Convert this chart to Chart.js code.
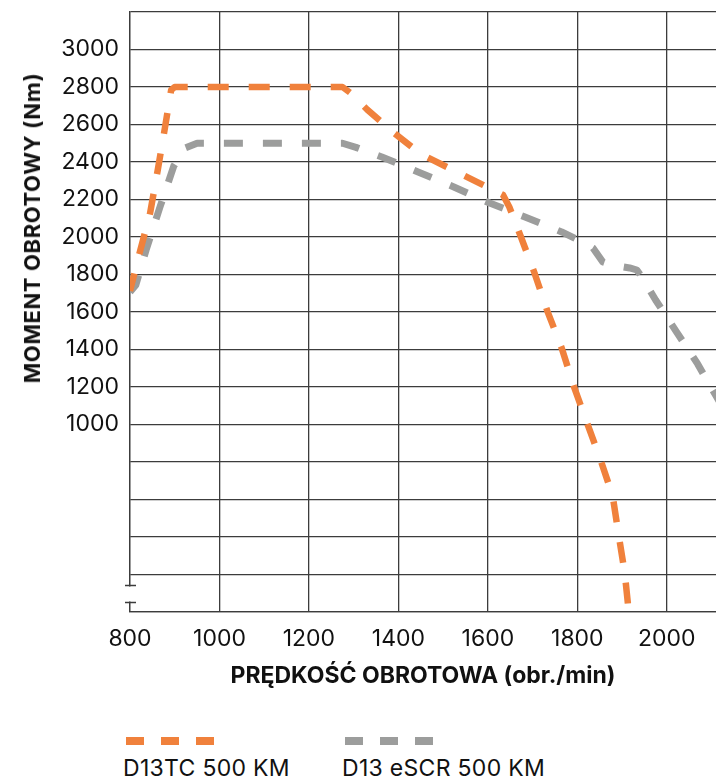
<!DOCTYPE html>
<html>
<head>
<meta charset="utf-8">
<script src="https://cdn.jsdelivr.net/npm/chart.js@4/dist/chart.umd.min.js"></script>
<style>
  html, body { margin: 0; padding: 0; background: #fff; }
  #wrap { position: relative; width: 716px; height: 776px; overflow: hidden; font-family: Inter, "Noto Sans", sans-serif; color: #111; }
  #c { position: absolute; left: 0; top: 0; }
  #ytitle { position: absolute; left: 32px; top: 228px; transform: translate(-50%, -50%) rotate(-90deg); white-space: nowrap; font-weight: 700; font-size: 22px; letter-spacing: 0.6px; }
  .leg { position: absolute; top: 737px; }
  .leg .dash { display: flex; gap: 17px; height: 8px; }
  .leg .dash span { display: block; width: 18px; height: 8px; }
  .leg .lbl { margin-top: 9px; font-size: 23px; white-space: nowrap; margin-left: -3px; letter-spacing: 0.3px; }
</style>
</head>
<body>
<div id="wrap">
  <canvas id="c" width="716" height="700"></canvas>
  <div id="ytitle">MOMENT OBROTOWY (Nm)</div>
  <div class="leg" style="left:126px"><div class="dash" id="d1"></div><div class="lbl" id="l1"></div></div>
  <div class="leg" style="left:345px"><div class="dash" id="d2"></div><div class="lbl" id="l2"></div></div>
</div>
<script>
// ---- data ----
const seriesNames = ["D13TC 500 KM", "D13 eSCR 500 KM"];
const rpmTC = [800, 822, 845, 862, 878, 892, 900, 1275, 1292, 1330, 1390, 1450, 1517, 1590, 1634, 1648, 1674, 1705, 1733, 1765, 1792, 1821, 1852, 1879, 1892, 1906, 1915];
const torqueTC = [1712, 1920, 2128, 2357, 2581, 2784, 2800, 2800, 2770, 2680, 2555, 2443, 2363, 2277, 2224, 2160, 2000, 1803, 1605, 1408, 1205, 1013, 811, 619, 416, 208, 0];
const rpmSCR = [800, 813, 836, 867, 898, 923, 950, 1275, 1305, 1363, 1444, 1524, 1604, 1683, 1765, 1821, 1835, 1857, 1877, 1917, 1933, 1944, 1975, 2022, 2069, 2109, 2130];
const torqueSCR = [1707, 1744, 1931, 2160, 2379, 2475, 2500, 2500, 2478, 2427, 2347, 2267, 2181, 2107, 2027, 1962, 1941, 1867, 1851, 1835, 1824, 1787, 1664, 1493, 1323, 1157, 1070];
const xTicksMin = 800, xMax = 2110, xStep = 200;
const yMin = 0, yMax = 3200, yStep = 200, yLabelMin = 1000, yLabelMax = 3000;
const xTitle = "PRĘDKOŚĆ OBROTOWA (obr./min)";
const colors = ["#f0813c", "#9c9d9c"];

const toPts = (xs, ys) => xs.map((x, i) => ({ x: x, y: ys[i] }));

// legend (HTML)
[["d1", "l1", 0], ["d2", "l2", 1]].forEach(([d, l, i]) => {
  const el = document.getElementById(d);
  for (let k = 0; k < 3; k++) { const s = document.createElement('span'); s.style.background = colors[i]; el.appendChild(s); }
  document.getElementById(l).textContent = seriesNames[i];
});

const gridColor = '#3c3c3c';

const breakPlugin = {
  id: 'axisBreak',
  afterDraw(chart) {
    const { ctx, chartArea } = chart;
    const ys = chart.scales.y;
    const yA = Math.round(ys.getPixelForValue(144)) + 0.5;
    const yB = Math.round(ys.getPixelForValue(53)) + 0.5;
    const x = chartArea.left;
    ctx.save();
    ctx.fillStyle = '#fff';
    ctx.fillRect(x - 3, yA + 1, 6, yB - yA - 2);
    ctx.strokeStyle = gridColor;
    ctx.lineWidth = 1.3;
    ctx.beginPath();
    ctx.moveTo(x - 5, yA); ctx.lineTo(x + 6, yA);
    ctx.moveTo(x - 5, yB); ctx.lineTo(x + 6, yB);
    ctx.stroke();
    ctx.restore();
  }
};

new Chart(document.getElementById('c'), {
  type: 'line',
  data: {
    datasets: [
      { label: seriesNames[0], data: toPts(rpmTC, torqueTC), borderColor: colors[0], borderWidth: 6.5, borderDash: [21, 20], borderDashOffset: 3, pointRadius: 0, tension: 0, fill: false, borderJoinStyle: 'round', order: 1 },
      { label: seriesNames[1], data: toPts(rpmSCR, torqueSCR), borderColor: colors[1], borderWidth: 7, borderDash: [19, 20], borderDashOffset: 0, pointRadius: 0, tension: 0, fill: false, borderJoinStyle: 'round', order: 2 }
    ]
  },
  options: {
    responsive: false,
    animation: false,
    layout: { padding: { top: 12, left: 0, right: 0, bottom: 0 } },
    plugins: { legend: { display: false }, tooltip: { enabled: false } },
    scales: {
      x: {
        type: 'linear', min: xTicksMin, max: xMax,
        ticks: { stepSize: xStep, includeBounds: false, padding: 13, color: '#111', font: { family: 'Inter', size: 23 }, maxRotation: 0,
          callback: v => String(v) },
        grid: { color: gridColor, lineWidth: 1.3, drawTicks: false },
        border: { display: true, color: gridColor, width: 1.3 },
        title: { display: true, text: xTitle, color: '#111', font: { family: 'Inter', size: 23, weight: 'bold' }, padding: { top: 0, bottom: 10 } },
        afterFit(s) { s.height = 88; s.paddingLeft = 0; s.paddingRight = 0; }
      },
      y: {
        type: 'linear', min: yMin, max: yMax,
        ticks: { stepSize: yStep, padding: 11, color: '#111', font: { family: 'Inter', size: 23 },
          callback: v => (v >= yLabelMin && v <= yLabelMax) ? String(v) : '' },
        grid: { color: gridColor, lineWidth: 1.3, drawTicks: false },
        border: { display: true, color: gridColor, width: 1.3 },
        afterFit(s) { s.width = 130; s.paddingTop = 0; s.paddingBottom = 0; }
      }
    }
  },
  plugins: [breakPlugin]
});
</script>
</body>
</html>
